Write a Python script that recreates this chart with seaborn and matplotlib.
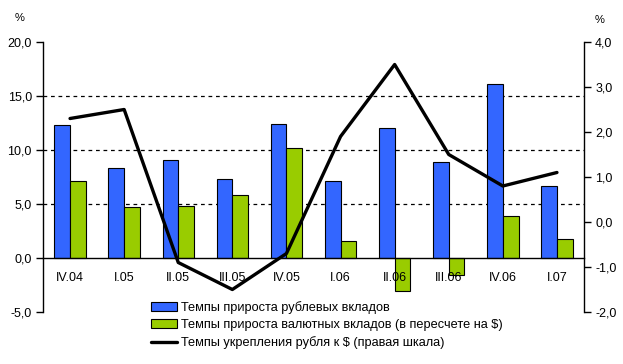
import numpy as np
import pandas as pd
import matplotlib
matplotlib.use("Agg")
import matplotlib.pyplot as plt
import seaborn as sns
from matplotlib.patches import Patch
from matplotlib.lines import Line2D
from matplotlib.ticker import FuncFormatter, FixedLocator

categories = ["IV.04", "I.05", "II.05", "III.05", "IV.05", "I.06", "II.06", "III.06", "IV.06", "I.07"]
rub_deposits = [12.3, 8.3, 9.1, 7.3, 12.4, 7.1, 12.0, 8.9, 16.1, 6.7]
fx_deposits = [7.1, 4.7, 4.8, 5.8, 10.2, 1.6, -3.1, -1.6, 3.9, 1.8]
rub_strength = [2.3, 2.5, -0.9, -1.5, -0.7, 1.9, 3.5, 1.5, 0.8, 1.1]
series_names = ["Темпы прироста рублевых вкладов",
                "Темпы прироста валютных вкладов (в пересчете на $)",
                "Темпы укрепления рубля к $ (правая шкала)"]
left_ticks = [-5, 0, 5, 10, 15, 20]
right_ticks = [-2, -1, 0, 1, 2, 3, 4]

sns.set_style("white")
plt.rcParams['font.family'] = ['Liberation Sans', 'DejaVu Sans']
plt.rcParams['font.size'] = 9
plt.rcParams['text.color'] = 'black'
plt.rcParams['xtick.color'] = 'black'
plt.rcParams['ytick.color'] = 'black'
plt.rcParams['axes.labelcolor'] = 'black'

blue = "#3366FF"
green = "#99CC00"

df = pd.DataFrame({
    "cat": categories * 2,
    "val": rub_deposits + fx_deposits,
    "series": [series_names[0]] * len(categories) + [series_names[1]] * len(categories),
})

fig = plt.figure(figsize=(6.23, 3.64), dpi=100)
ax = fig.add_axes([43/623, 1-312/364, (584-43)/623, (312-42)/364])

sns.barplot(data=df, x="cat", y="val", hue="series", order=categories,
            hue_order=series_names[:2], palette=[blue, green], saturation=1, width=0.58,
            edgecolor="black", linewidth=0.8, ax=ax, legend=False, zorder=2)

ax.set_ylim(-5, 20)
ax.set_xlim(-0.5, len(categories) - 0.5)
ax.set_xlabel("")
ax.set_ylabel("")
for y in [5, 10, 15]:
    ax.axhline(y, color="black", lw=0.9, ls=(0, (3, 3)), zorder=1)

ax.spines['top'].set_visible(False)
ax.spines['right'].set_visible(False)
ax.spines['bottom'].set_position(('data', 0))
ax.spines['bottom'].set_zorder(4)
for s in ['left', 'bottom']:
    ax.spines[s].set_color("black")
    ax.spines[s].set_linewidth(1.0)

ax.yaxis.set_major_locator(FixedLocator(left_ticks))
ax.yaxis.set_major_formatter(FuncFormatter(lambda v, p: f"{v:.1f}".replace(".", ",")))
ax.tick_params(axis='y', direction='out', length=5, width=1, color="black", pad=3, labelsize=9)

n = len(categories)
ax.xaxis.set_major_locator(FixedLocator(np.arange(0.5, n - 0.5, 1)))
ax.xaxis.set_major_formatter(FuncFormatter(lambda v, p: ""))
ax.xaxis.set_minor_locator(FixedLocator(np.arange(n)))
ax.set_xticks(np.arange(n), labels=categories, minor=True)
ax.tick_params(axis='x', which='major', direction='out', length=5, width=1, color="black")
ax.tick_params(axis='x', which='minor', length=0, pad=10, labelsize=9)
ax.xaxis.set_zorder(3)

ax2 = ax.twinx()
sns.lineplot(x=np.arange(n), y=rub_strength, color="black", lw=2.4, ax=ax2, zorder=5)
ax2.set_ylim(-2, 4)
ax2.yaxis.set_major_locator(FixedLocator(right_ticks))
ax2.yaxis.set_major_formatter(FuncFormatter(lambda v, p: f"{v:.1f}".replace(".", ",")))
ax2.tick_params(axis='y', direction='out', length=5, width=1, color="black", pad=3, labelsize=9, right=True, left=False)
for s in ['top', 'left', 'bottom']:
    ax2.spines[s].set_visible(False)
ax2.spines['right'].set_color("black")
ax2.spines['right'].set_linewidth(1.0)

fig.text(20/623, 1-18/364, "%", ha="center", va="center", fontsize=8)
fig.text(600/623, 1-20/364, "%", ha="center", va="center", fontsize=8)

handles = [Patch(facecolor=blue, edgecolor="black", lw=0.8),
           Patch(facecolor=green, edgecolor="black", lw=0.8),
           Line2D([], [], color="black", lw=2.4)]
fig.legend(handles, series_names, loc="upper left", bbox_to_anchor=(151/623, 1-301/364),
           frameon=False, fontsize=9.2, handlelength=2.0, handleheight=0.7,
           handletextpad=0.35, labelspacing=0.4, borderpad=0, borderaxespad=0)

fig.savefig("out.png", dpi=100)
